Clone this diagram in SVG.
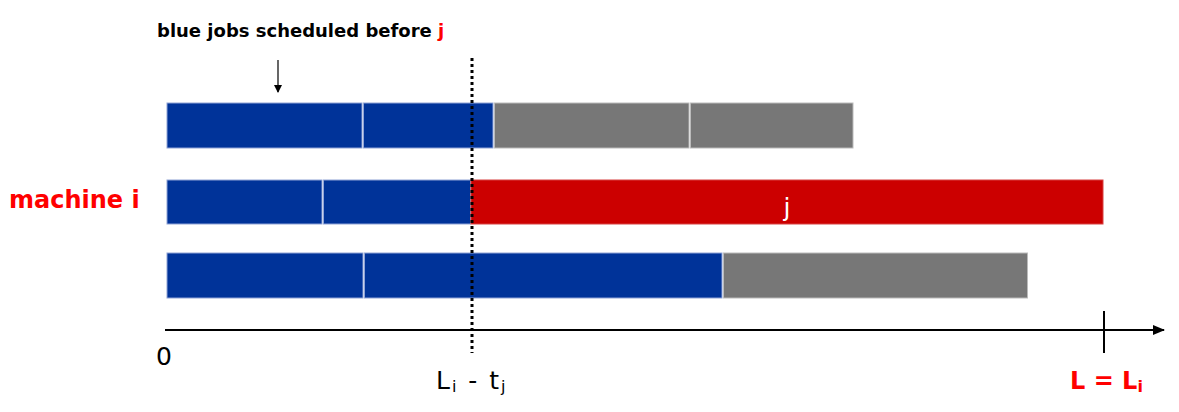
<svg xmlns="http://www.w3.org/2000/svg" width="1179" height="412" viewBox="0 0 1179 412">
<style>
.blue{fill:#003399;stroke:#8fa3d6;stroke-width:1}
.gray{fill:#777777;stroke:#bbbbbb;stroke-width:1}
.red{fill:#cc0000;stroke:#d84040;stroke-width:1}
text{font-family:"Comic Sans MS","DejaVu Sans",sans-serif}
.lbl{font-size:18px;font-weight:bold;fill:#000}
.ax{font-size:25px;fill:#000}
</style>
<defs>
<marker id="ah" markerWidth="12" markerHeight="10" refX="11" refY="5" orient="auto" markerUnits="userSpaceOnUse">
<path d="M0,0 L12,5 L0,10 Z" fill="#000"/>
</marker>
<marker id="sa" markerWidth="8" markerHeight="8" refX="7" refY="4" orient="auto" markerUnits="userSpaceOnUse">
<path d="M0,0 L8,4 L0,8 Z" fill="#000"/>
</marker>
</defs>
<g id="row1">
<rect class="blue" x="167" y="103" width="195" height="45"/>
<rect class="blue" x="363.5" y="103" width="129.5" height="45"/>
<rect class="gray" x="494.5" y="103" width="194.5" height="45"/>
<rect class="gray" x="690.5" y="103" width="162.5" height="45"/>
</g>
<g id="row2">
<rect class="blue" x="167" y="180" width="155" height="44"/>
<rect class="blue" x="323.5" y="180" width="147" height="44"/>
<g id="job-j">
<rect class="red" x="471" y="180" width="632" height="44"/>
<text x="787" y="216" text-anchor="middle" font-size="25" fill="#fff">j</text>
</g>
</g>
<g id="row3">
<rect class="blue" x="167" y="253" width="196" height="45"/>
<rect class="blue" x="364.5" y="253" width="357.5" height="45"/>
<rect class="gray" x="723.5" y="253" width="304" height="45"/>
</g>
<g id="connectors">
<line x1="165" y1="330" x2="1164" y2="330" stroke="#000" stroke-width="2" marker-end="url(#ah)"/>
<line x1="1104" y1="311" x2="1104" y2="353" stroke="#000" stroke-width="2"/>
<line x1="472" y1="58" x2="472" y2="353" stroke="#000" stroke-width="3" stroke-dasharray="3,3"/>
<line x1="278" y1="60" x2="278" y2="92" stroke="#000" stroke-width="1.2" marker-end="url(#sa)"/>
</g>
<g id="labels">
<text class="lbl" x="157" y="37">blue jobs scheduled before <tspan fill="#ff0000">j</tspan></text>
<text x="9" y="208" font-size="24" font-weight="bold" fill="#ff0000">machine i</text>
<text class="ax" x="156" y="365">0</text>
<text class="ax" x="436" y="389" letter-spacing="2">L<tspan font-size="16" dy="3">i</tspan><tspan dy="-3"> - t</tspan><tspan font-size="16" dy="3">j</tspan></text>
<text x="1070" y="389" font-size="24" font-weight="bold" fill="#ff0000">L = L<tspan font-size="16" dy="3">i</tspan></text>
</g>
</svg>
